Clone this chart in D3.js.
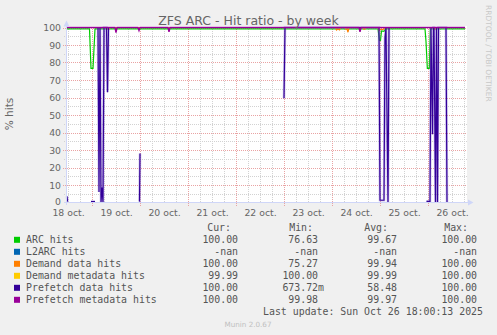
<!DOCTYPE html>
<html><head><meta charset="utf-8">
<script src="https://cdn.jsdelivr.net/npm/d3@7/dist/d3.min.js"></script>
<style>
html,body{margin:0;padding:0;background:#f0f0f0;}
svg{display:block;}
.pre{white-space:pre;}
</style></head>
<body>
<svg id="chart" width="497" height="335"></svg>
<script>
// ---------- data ----------
const startTime = "2025-10-18 11:30";
const endTime = "2025-10-26 19:30";
const yTicks = [0,10,20,30,40,50,60,70,80,90,100];
const dayNoons = ["2025-10-18 12:00","2025-10-19 12:00","2025-10-20 12:00","2025-10-21 12:00","2025-10-22 12:00","2025-10-23 12:00","2025-10-24 12:00","2025-10-25 12:00","2025-10-26 12:00"];
const dayLabels = ["18 oct.","19 oct.","20 oct.","21 oct.","22 oct.","23 oct.","24 oct.","25 oct.","26 oct."];

const seriesNames = ["ARC hits","L2ARC hits","Demand data hits","Demand metadata hits","Prefetch data hits","Prefetch metadata hits"];
const seriesColors = ["#00cc00","#0066b3","#ff8000","#ffcc00","#330099","#990099"];
const curValues = ["100.00","-nan","100.00","99.99","100.00","100.00"];
const minValues = ["76.63","-nan","75.27","100.00","673.72m","99.98"];
const avgValues = ["99.67","-nan","99.94","99.99","58.48","99.97"];
const maxValues = ["100.00","-nan","100.00","100.00","100.00","100.00"];
const lastUpdate = "Last update: Sun Oct 26 18:00:13 2025";

const arcHits = [
  ["2025-10-18 11:30",99.2],["2025-10-18 22:45",99.2],["2025-10-18 23:30",76.63],["2025-10-19 00:30",76.63],
  ["2025-10-19 01:30",99.2],["2025-10-24 23:00",99.2],["2025-10-24 23:45",92.7],["2025-10-25 00:15",92.7],
  ["2025-10-25 00:45",98],["2025-10-25 02:00",97.8],["2025-10-25 02:45",99.2],["2025-10-25 22:30",99.2],
  ["2025-10-25 23:00",92],["2025-10-25 23:40",76.7],["2025-10-26 00:40",76.7],["2025-10-26 01:10",99.2],
  ["2025-10-26 18:30",99.2]
];
const l2arcHits = [];
const demandDataHits = [
  ["2025-10-18 11:30",100],
  ["2025-10-19 07:00",100],["2025-10-19 07:30",98.9],["2025-10-19 08:30",99.1],["2025-10-19 09:00",100],
  ["2025-10-24 01:45",100],["2025-10-24 02:15",98.5],["2025-10-24 03:00",99.2],["2025-10-24 03:45",98.7],["2025-10-24 04:15",100],
  ["2025-10-24 06:30",100],["2025-10-24 07:00",99],["2025-10-24 07:30",99.2],["2025-10-24 08:00",97.3],["2025-10-24 08:30",100],
  ["2025-10-24 15:30",100],["2025-10-24 16:00",99],["2025-10-24 16:30",99.1],["2025-10-24 17:00",100],
  ["2025-10-24 23:00",100],["2025-10-24 23:30",98.3],["2025-10-25 00:30",99],["2025-10-25 01:30",98.8],["2025-10-25 02:30",100],
  ["2025-10-26 03:00",100],["2025-10-26 03:30",99],["2025-10-26 04:00",100],
  ["2025-10-26 18:30",100]
];
const demandMetadataHits = [["2025-10-18 11:30",100],["2025-10-26 18:30",100]];
const prefetchDataHits = [
  ["2025-10-18 11:30",3.5],["2025-10-18 11:45",0.5],["2025-10-18 12:00",null],
  ["2025-10-18 23:30",0.5],["2025-10-19 01:30",0.5],["2025-10-19 02:00",null],
  ["2025-10-19 03:00",100],["2025-10-19 03:30",6],["2025-10-19 04:00",100],["2025-10-19 04:30",0],
  ["2025-10-19 05:00",8.5],["2025-10-19 05:30",0],["2025-10-19 06:00",100],["2025-10-19 07:15",100],
  ["2025-10-19 07:45",63],["2025-10-19 08:15",100],["2025-10-19 08:30",null],
  ["2025-10-19 23:45",0.5],["2025-10-20 00:00",28],["2025-10-20 00:30",null],
  ["2025-10-23 00:00",59.6],["2025-10-23 00:30",100],["2025-10-24 23:30",100],["2025-10-25 00:00",1.3],
  ["2025-10-25 02:00",1.3],["2025-10-25 02:30",94],["2025-10-25 03:00",100],["2025-10-25 04:00",0],
  ["2025-10-25 04:30",100],["2025-10-25 05:00",null],
  ["2025-10-25 23:15",0.7],["2025-10-26 01:00",0.7],["2025-10-26 01:30",100],["2025-10-26 02:15",39],
  ["2025-10-26 02:45",100],["2025-10-26 03:00",100],["2025-10-26 03:45",0],["2025-10-26 04:15",100],
  ["2025-10-26 04:45",0],["2025-10-26 05:15",100],["2025-10-26 09:00",100],["2025-10-26 09:30",0]
];
const prefetchMetadataHits = [
  ["2025-10-18 11:30",100],
  ["2025-10-19 11:30",100],["2025-10-19 12:00",97.1],["2025-10-19 12:30",100],
  ["2025-10-19 23:00",100],["2025-10-19 23:30",98.3],["2025-10-20 00:00",100],
  ["2025-10-20 14:00",100],["2025-10-20 14:30",97.5],["2025-10-20 15:00",100],
  ["2025-10-24 13:30",100],["2025-10-24 14:00",97.5],["2025-10-24 14:30",100],
  ["2025-10-26 18:30",100]
];
const seriesData = [arcHits,l2arcHits,demandDataHits,demandMetadataHits,prefetchDataHits,prefetchMetadataHits];

// ---------- drawing ----------
const parse = d3.timeParse("%Y-%m-%d %H:%M");
const svg = d3.select("#chart");
const FONT = "'DejaVu Sans', sans-serif";
const MONO = "'DejaVu Sans Mono', monospace";
const TXT = "#666666";
const AXIS = "#cfd6f8";

const t0 = parse(startTime), t1 = parse(endTime);
const x = d3.scaleTime().domain([t0, t1]).range([67, 467]);
const y = d3.scaleLinear().domain([0, 100]).range([202.5, 27.5]);
const px = v => Math.round(v) + 0.5;

svg.append("rect").attr("width",497).attr("height",335).attr("fill","#f0f0f0");
svg.append("rect").attr("x",67).attr("y",26).attr("width",400).attr("height",177).attr("fill","#ffffff");

// grid
const grid = svg.append("g").attr("stroke-width",1).attr("stroke-dasharray","1,1").attr("fill","none");
const minorTimes = d3.timeHour.every(6).range(t0, t1).filter(t => t.getHours() !== 0);
const majorTimes = d3.timeDay.range(d3.timeDay.offset(d3.timeDay.floor(t0),1), t1);
grid.selectAll(".vmin").data(minorTimes).join("line")
  .attr("x1", d => px(x(d))).attr("x2", d => px(x(d))).attr("y1",27).attr("y2",203)
  .attr("stroke","#d2d2d2");
const minorY = d3.range(5, 100, 10);
grid.selectAll(".hmin").data(minorY).join("line")
  .attr("y1", d => px(y(d))).attr("y2", d => px(y(d))).attr("x1",64).attr("x2",467)
  .attr("stroke","#d2d2d2");
grid.selectAll(".vmaj").data(majorTimes).join("line")
  .attr("x1", d => px(x(d))).attr("x2", d => px(x(d))).attr("y1",27).attr("y2",206)
  .attr("stroke","#e9a3a3");
grid.selectAll(".hmaj").data(yTicks.filter(v=>v>0)).join("line")
  .attr("y1", d => px(y(d))).attr("y2", d => px(y(d))).attr("x1",63).attr("x2",467)
  .attr("stroke","#e9a3a3");

// series
const line = d3.line()
  .defined(d => d[1] !== null)
  .x(d => x(parse(d[0])))
  .y(d => y(d[1]));
seriesData.forEach((s, i) => {
  if (!s.length) return;
  if (i === 4) {
    svg.append("path").datum(s).attr("d", line)
      .attr("fill","none").attr("stroke","#8f78d0").attr("stroke-opacity",0.45)
      .attr("stroke-width", 2.6).attr("stroke-linejoin","miter");
  }
  svg.append("path").datum(s).attr("d", line)
    .attr("fill","none").attr("stroke", seriesColors[i])
    .attr("stroke-width", i === 5 ? 1.4 : 1.2).attr("stroke-linejoin","miter");
});

// axes lines + arrows
svg.append("line").attr("x1",66.5).attr("x2",66.5).attr("y1",205).attr("y2",24).attr("stroke",AXIS);
svg.append("line").attr("x1",64).attr("x2",469).attr("y1",202.5).attr("y2",202.5).attr("stroke",AXIS);
svg.append("path").attr("d","M63.5,26.5 L66.5,20.5 L69.5,26.5 Z").attr("fill",AXIS);
svg.append("path").attr("d","M468,199.5 L473.5,202.5 L468,205.5 Z").attr("fill",AXIS);

// y tick labels
const yAxis = svg.append("g").attr("transform","translate(61,0)")
  .call(d3.axisLeft(y).tickValues(yTicks).tickSize(0).tickPadding(0));
yAxis.select(".domain").remove();
yAxis.selectAll("text").attr("font-family",FONT).attr("font-size","9.3px").attr("fill",TXT)
  .attr("dy", d => d === 0 ? "0.2em" : "0.33em");

// x tick labels
const noons = dayNoons.map(parse);
const xAxis = svg.append("g").attr("transform","translate(0,203)")
  .call(d3.axisBottom(x).tickValues(noons).tickSize(0).tickPadding(6.3).tickFormat((d,i) => dayLabels[i]));
xAxis.select(".domain").remove();
xAxis.selectAll("text").attr("font-family",FONT).attr("font-size","9.3px").attr("fill",TXT);

// title
svg.append("text").attr("x",248.5).attr("y",25).attr("text-anchor","middle")
  .attr("font-family",FONT).attr("font-size","12.5px").attr("fill",TXT)
  .text("ZFS ARC - Hit ratio - by week");
// y label
svg.append("text").attr("transform","translate(12.5,114) rotate(-90)").attr("text-anchor","middle")
  .attr("font-family",FONT).attr("font-size","10.5px").attr("fill",TXT).text("% hits");
// watermark right
svg.append("text").attr("transform","translate(485.5,5) rotate(90)")
  .attr("font-family",FONT).attr("font-size","7.5px").attr("fill","#c8c8c8")
  .text("RRDTOOL / TOBI OETIKER");
// munin version
svg.append("text").attr("x",248).attr("y",327).attr("text-anchor","middle")
  .attr("font-family",FONT).attr("font-size","7.2px").attr("fill","#c0c0c0").text("Munin 2.0.67");

// legend
const LEG = "#555555";
const leg = svg.append("g").attr("font-family",MONO).attr("font-size","9.9px").attr("fill",LEG);
const headers = [["Cur:",231],["Min:",313],["Avg:",388],["Max:",468]];
headers.forEach(h => leg.append("text").attr("x",h[1]).attr("y",231).attr("text-anchor","end").text(h[0]));
const cols = [[curValues,244],[minValues,324],[avgValues,403],[maxValues,483]];
const fmt = v => v.endsWith("m") ? v : v + " ";
seriesNames.forEach((name, i) => {
  const by = 243.3 + 12 * i;
  leg.append("rect").attr("x",14).attr("y",by-6.5).attr("width",6).attr("height",6).attr("fill",seriesColors[i]);
  leg.append("text").attr("class","pre").attr("x",26).attr("y",by).text(name);
  cols.forEach(c => leg.append("text").attr("class","pre").attr("x",c[1]).attr("y",by)
    .attr("text-anchor","end").text(fmt(c[0][i])));
});
leg.append("text").attr("x",483).attr("y",315).attr("text-anchor","end").text(lastUpdate);
</script>
</body></html>
